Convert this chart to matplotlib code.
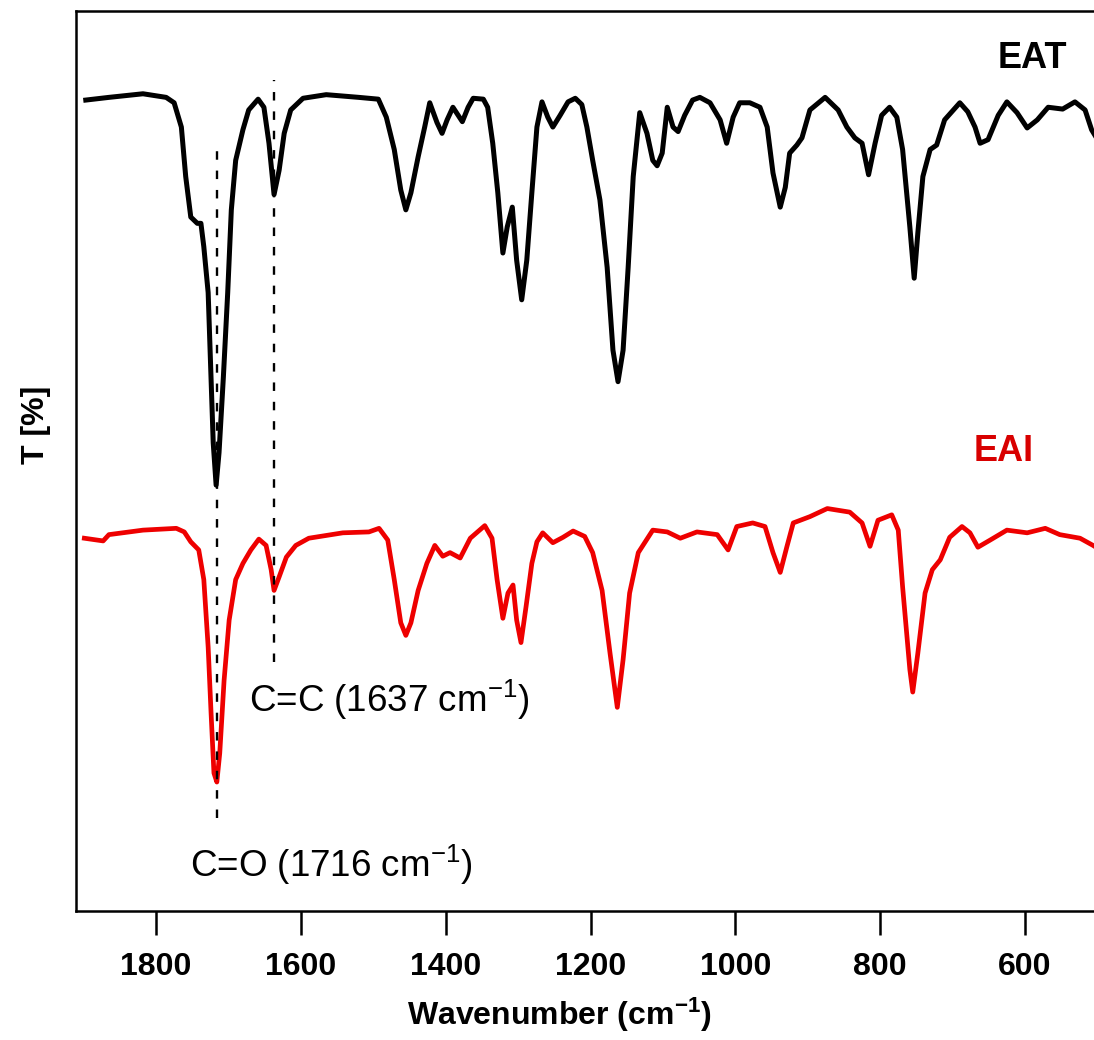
import numpy as np
import matplotlib.pyplot as plt

# FTIR spectra, EAT (top) and EAI (bottom)
# wavenumber in cm-1, transmittance in arbitrary % (curves are offset)

eat_wn = [1897, 1865, 1818, 1786, 1775, 1765, 1759, 1752, 1743, 1738, 1734, 1728,
          1724, 1721, 1717, 1713, 1707, 1701, 1696, 1690, 1680, 1672, 1659, 1651,
          1644, 1637, 1630, 1623, 1614, 1597, 1565, 1520, 1493, 1482, 1471, 1462,
          1455, 1448, 1438, 1429, 1422, 1412, 1405, 1398, 1390, 1377, 1369, 1362,
          1348, 1342, 1335, 1328, 1321, 1315, 1308, 1302, 1295, 1288, 1281, 1274,
          1267, 1259, 1252, 1242, 1231, 1221, 1212, 1205, 1197, 1187, 1177, 1169,
          1162, 1155, 1148, 1141, 1132, 1122, 1114, 1108, 1101, 1094, 1086, 1079,
          1070, 1059, 1049, 1035, 1021, 1012, 1003, 994, 980, 966, 956, 948, 938,
          931, 925, 915, 908, 897, 876, 858, 846, 835, 825, 816, 807, 798, 787,
          777, 769, 759, 753, 748, 741, 731, 722, 711, 690, 679, 669, 662, 651,
          637, 625, 611, 597, 583, 568, 548, 531, 517, 508, 502]
eat_t = [90.1, 90.4, 90.8, 90.4, 89.8, 87.1, 81.6, 77.1, 76.4, 76.4, 73.8, 68.7,
         59.3, 52.0, 47.3, 50.9, 59.3, 68.7, 77.9, 83.4, 86.8, 89.0, 90.2, 89.3,
         85.3, 79.6, 82.3, 86.4, 89.0, 90.3, 90.7, 90.4, 90.2, 88.2, 84.6, 80.1,
         77.9, 79.8, 83.8, 87.1, 89.8, 87.6, 86.4, 87.9, 89.3, 87.7, 89.3, 90.3,
         90.2, 89.3, 85.3, 79.8, 73.1, 76.0, 78.2, 72.3, 67.9, 72.3, 79.8, 87.1,
         89.9, 88.2, 87.1, 88.4, 89.9, 90.3, 89.6, 87.1, 83.4, 79.0, 71.5, 62.3,
         58.8, 62.3, 71.5, 81.6, 88.7, 86.4, 83.4, 82.8, 84.2, 89.3, 87.1, 86.6,
         88.4, 90.1, 90.4, 89.8, 87.9, 85.3, 88.2, 89.8, 89.8, 89.3, 87.1, 82.0, 78.2,
         80.4, 84.2, 85.1, 85.9, 89.0, 90.4, 89.0, 87.1, 85.9, 85.3, 81.8, 85.3, 88.4, 89.3,
         88.2, 84.6, 76.0, 70.3, 75.3, 81.6, 84.6, 85.1, 87.9, 89.8, 88.8, 87.1, 85.3, 85.7,
         88.4, 89.9, 88.7, 87.0, 87.9, 89.3, 89.1, 89.9, 89.0, 86.8, 86.0]

eai_wn = [1899, 1873, 1865, 1818, 1772, 1761, 1752, 1741, 1734, 1728, 1724, 1720,
          1716, 1712, 1706, 1699, 1690, 1680, 1669, 1658, 1648, 1641, 1637, 1630,
          1620, 1607, 1589, 1542, 1506, 1492, 1480, 1471, 1462, 1455, 1448, 1438,
          1426, 1415, 1404, 1394, 1380, 1366, 1346, 1336, 1329, 1321, 1314, 1307,
          1302, 1296, 1289, 1281, 1274, 1266, 1252, 1238, 1224, 1208, 1197, 1184,
          1173, 1163, 1155, 1146, 1134, 1114, 1094, 1076, 1053, 1025, 1010, 998,
          976, 959, 948, 938, 929, 920, 897, 873, 842, 825, 814, 803, 784, 775,
          769, 759, 755, 748, 738, 728, 717, 704, 687, 676, 665, 648, 625, 597,
          572, 552, 524, 506, 502]
eai_t = [41.4, 41.1, 41.8, 42.3, 42.5, 42.1, 41.0, 40.1, 36.8, 29.3, 22.0, 15.3,
         14.3, 17.5, 25.6, 32.3, 36.8, 38.6, 40.1, 41.3, 40.6, 37.9, 35.6, 37.1,
         39.3, 40.6, 41.4, 42.0, 42.1, 42.5, 41.2, 36.8, 32.0, 30.6, 32.0, 35.6,
         38.6, 40.6, 39.4, 39.8, 39.2, 41.4, 42.8, 41.4, 36.8, 32.5, 35.3, 36.2,
         32.3, 29.8, 33.8, 38.6, 41.0, 42.0, 40.9, 41.5, 42.2, 41.6, 39.8, 35.6,
         28.6, 22.6, 27.9, 35.3, 39.8, 42.3, 42.1, 41.4, 42.1, 41.8, 40.1, 42.7,
         43.1, 42.7, 39.8, 37.6, 40.4, 43.1, 43.8, 44.7, 44.3, 43.1, 40.5, 43.4, 44.0, 42.3,
         36.0, 26.8, 24.3, 28.6, 35.3, 37.9, 39.0, 41.5, 42.7, 42.0, 40.4, 41.2, 42.3, 42.0,
         42.5, 41.8, 41.4, 40.6, 40.4]

# marked bands: (wavenumber, top, bottom) of the dashed guide
bands = [1716, 1637]
band_top = [84.8, 92.3]
band_bottom = [10.3, 27.6]
band_labels = ['C=O (1716 cm$^{-1}$)', 'C=C (1637 cm$^{-1}$)']
band_label_pos = [(1753, 3.7), (1672, 22.1)]

xticks = [1800, 1600, 1400, 1200, 1000, 800, 600]

plt.rcParams['font.family'] = ['Liberation Sans', 'DejaVu Sans']
plt.rcParams['mathtext.default'] = 'regular'

fig = plt.figure(figsize=(10.94, 10.40), dpi=100)
ax = fig.add_axes([76/1094, 1 - 910.7/1040, 1 - 76/1094, (910.7 - 11)/1040])

ax.plot(eat_wn, eat_t, color='black', lw=3.6, solid_joinstyle='round')
ax.plot(eai_wn, eai_t, color='#ee0000', lw=3.4, solid_joinstyle='round')

# dashed guides for the two bands
for wn, top, bot in zip(bands, band_top, band_bottom):
    ax.plot([wn, wn], [bot, top], color='black', lw=1.7, dashes=(3.6, 4.6))

for lab, (x, y) in zip(band_labels, band_label_pos):
    ax.text(x, y, lab, fontsize=26.5, ha='left', va='baseline')

ax.text(590, 94.7, 'EAT', fontsize=26, fontweight='bold', ha='center', va='center')
ax.text(629, 51.0, 'EAI', fontsize=26, fontweight='bold', color='#d80000',
        ha='center', va='center')

ax.set_xlim(1910.5, 504.7)
ax.set_ylim(0, 100)
ax.set_xticks(xticks)
ax.set_yticks([])
ax.tick_params(axis='x', direction='out', length=17, width=1.8, pad=13, labelsize=23)
for lab in ax.get_xticklabels():
    lab.set_fontweight('bold')

ax.spines['right'].set_visible(False)
for s in ['left', 'top', 'bottom']:
    ax.spines[s].set_linewidth(1.8)

ax.set_xlabel('Wavenumber (cm$^{-1}$)', fontsize=23, fontweight='bold', labelpad=12)
ax.xaxis.set_label_coords(0.475, -0.095)
ax.set_ylabel('T [%]', fontsize=23, fontweight='bold')
ax.yaxis.set_label_coords(-0.025, 0.54)

fig.savefig('out.png', dpi=100)
